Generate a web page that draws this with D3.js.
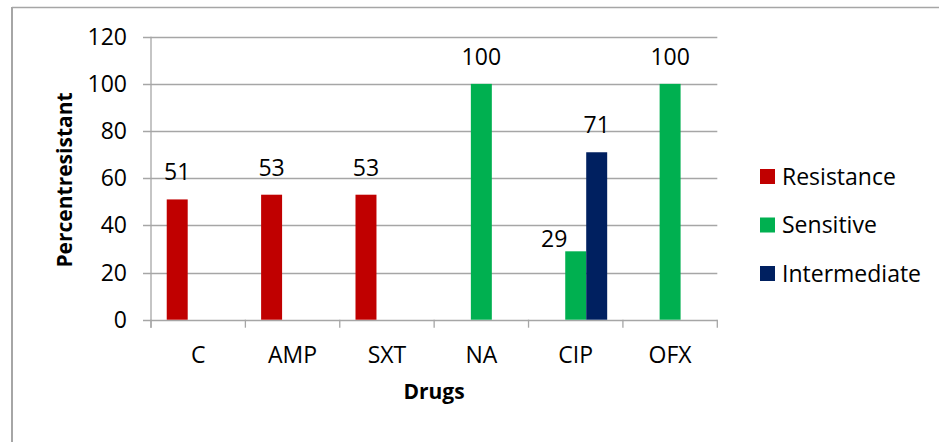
<!DOCTYPE html>
<html>
<head>
<meta charset="utf-8">
<script src="https://cdn.jsdelivr.net/npm/d3@7"></script>
<style>
  html, body { margin: 0; padding: 0; background: #fff; }
  svg { display: block; font-family: "Open Sans", sans-serif; }
</style>
</head>
<body>
<svg id="chart" width="939" height="442"></svg>
<script>
const categories = ["C", "AMP", "SXT", "NA", "CIP", "OFX"];
const seriesNames = ["Resistance", "Sensitive", "Intermediate"];
const resistance = [51, 53, 53, null, null, null];
const sensitive = [null, null, null, 100, 29, 100];
const intermediate = [null, null, null, null, 71, null];
const yTicks = [0, 20, 40, 60, 80, 100, 120];
const colors = ["#C00000", "#00B050", "#002060"];
const yTitle = "Percentresistant";
const xTitle = "Drugs";

const seriesValues = [resistance, sensitive, intermediate];
const svg = d3.select("#chart");
const FS = 23;

// outer frame
svg.append("line").attr("x1", 12).attr("x2", 939).attr("y1", 7.5).attr("y2", 7.5)
  .attr("stroke", "#A6A6A6").attr("stroke-width", 1.5);
svg.append("line").attr("x1", 12).attr("x2", 12).attr("y1", 7).attr("y2", 442)
  .attr("stroke", "#A6A6A6").attr("stroke-width", 2);

const pLeft = 151, pRight = 717.3, pTop = 36.7, pBottom = 319.7;
const x = d3.scaleBand().domain(categories).range([pLeft, pRight]).paddingInner(0).paddingOuter(0);
const sub = d3.scaleBand().domain(seriesNames).range([0, x.bandwidth()]).paddingInner(0).paddingOuter(0.75);
const y = d3.scaleLinear().domain([0, 120]).range([pBottom, pTop]);

// gridlines
const g = svg.append("g");
g.selectAll("line.grid").data(yTicks).join("line")
  .attr("class", "grid")
  .attr("x1", pLeft - 8).attr("x2", pRight)
  .attr("y1", d => Math.round(y(d)) + 0.5).attr("y2", d => Math.round(y(d)) + 0.5)
  .attr("stroke", "#A6A6A6").attr("stroke-width", 1.3);

// y axis line
g.append("line").attr("x1", pLeft).attr("x2", pLeft).attr("y1", pTop).attr("y2", pBottom + 8)
  .attr("stroke", "#A6A6A6").attr("stroke-width", 1.3);

// x category ticks
const bounds = categories.map(c => x(c)).concat([pRight]);
g.selectAll("line.xt").data(bounds).join("line")
  .attr("class", "xt")
  .attr("x1", d => d).attr("x2", d => d)
  .attr("y1", pBottom).attr("y2", pBottom + 8)
  .attr("stroke", "#A6A6A6").attr("stroke-width", 1.3);

// y tick labels
g.selectAll("text.yl").data(yTicks).join("text")
  .attr("class", "yl")
  .attr("x", 127).attr("y", d => y(d))
  .attr("dy", "0.35em")
  .attr("text-anchor", "end")
  .attr("font-size", FS).attr("fill", "#000")
  .text(d => d);

// x category labels
g.selectAll("text.xl").data(categories).join("text")
  .attr("class", "xl")
  .attr("x", d => x(d) + x.bandwidth() / 2).attr("y", 363)
  .attr("text-anchor", "middle")
  .attr("font-size", FS).attr("fill", "#000")
  .text(d => d);

// bars
const points = [];
seriesNames.forEach((s, si) => {
  seriesValues[si].forEach((v, ci) => {
    if (v != null) points.push({ s, si, c: categories[ci], v });
  });
});

g.selectAll("rect.bar").data(points).join("rect")
  .attr("class", "bar")
  .attr("x", d => x(d.c) + sub(d.s))
  .attr("width", sub.bandwidth())
  .attr("y", d => y(d.v))
  .attr("height", d => y(0) - y(d.v))
  .attr("fill", d => colors[d.si]);

// data labels (CIP sensitive label was moved to the left of its bar)
g.selectAll("text.dl").data(points).join("text")
  .attr("class", "dl")
  .attr("x", d => {
    const cx = x(d.c) + sub(d.s) + sub.bandwidth() / 2;
    return (d.c === "CIP" && d.s === "Sensitive") ? cx - 21.5 : cx;
  })
  .attr("y", d => (d.c === "CIP" && d.s === "Sensitive") ? y(d.v) - 4.5 : y(d.v) - 19)
  .attr("text-anchor", "middle")
  .attr("font-size", FS).attr("fill", "#000")
  .text(d => d.v);

// axis titles
svg.append("text")
  .attr("transform", `translate(72,180) rotate(-90)`)
  .attr("text-anchor", "middle")
  .attr("font-size", 21).attr("font-weight", "bold").attr("fill", "#000")
  .text(yTitle);
svg.append("text")
  .attr("x", 434).attr("y", 399)
  .attr("text-anchor", "middle")
  .attr("font-size", 21).attr("font-weight", "bold").attr("fill", "#000")
  .text(xTitle);

// legend
const legendY = [176.5, 225, 273.5];
const lg = svg.append("g");
seriesNames.forEach((s, i) => {
  lg.append("rect").attr("x", 760).attr("y", legendY[i] - 7.5).attr("width", 15).attr("height", 15)
    .attr("fill", colors[i]);
  lg.append("text").attr("x", 782).attr("y", legendY[i]).attr("dy", "0.35em")
    .attr("font-size", FS).attr("fill", "#000").text(s);
});
</script>
</body>
</html>
